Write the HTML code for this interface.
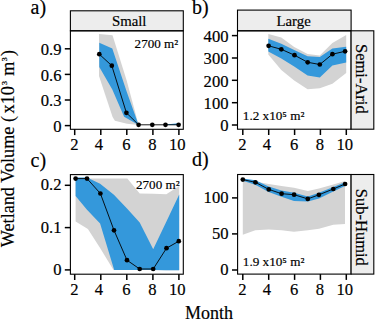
<!DOCTYPE html>
<html><head><meta charset="utf-8">
<style>
html,body{margin:0;padding:0;background:#fff;}
body{width:375px;height:319px;overflow:hidden;position:relative;}
svg{position:absolute;left:0;top:0;}
text{font-family:"Liberation Serif",serif;fill:#000;stroke:#000;stroke-width:0.18px;}
</style></head><body>
<svg width="375" height="319" viewBox="0 0 375 319">
<!-- ===== Panel a ===== -->
<g id="pa">
  <polygon fill="#d3d3d3" points="99,34 112.5,35.2 126.8,81 138.6,125 127,123.8 114.9,120.8 112.6,117 99,76"/>
  <polygon fill="#3498db" points="99.3,42.8 112.3,48.5 126.8,92 138.6,125 124.1,116.7 112.3,89.5 99.3,67"/>
  <polygon fill="#3498db" points="165.5,124.6 178.6,123.2 178.6,125 165.5,125"/>
  <polyline fill="none" stroke="#000" stroke-width="0.9" points="99.3,54.2 111.8,65.7 126.4,112.8 138.6,124.8 152.3,124.8 165.5,124.8 178.6,124.8"/>
  <g fill="#000">
    <circle cx="99.3" cy="54.2" r="2.35"/><circle cx="111.8" cy="65.7" r="2.35"/><circle cx="126.4" cy="112.8" r="2.35"/>
    <circle cx="138.6" cy="124.8" r="2.35"/><circle cx="152.3" cy="124.8" r="2.35"/><circle cx="165.5" cy="124.8" r="2.35"/><circle cx="178.6" cy="124.8" r="2.35"/>
  </g>
  <rect x="70.4" y="10.8" width="112.9" height="20" fill="#ededed" stroke="#000" stroke-width="1.1"/>
  <rect x="70.4" y="30.8" width="112.9" height="98.5" fill="none" stroke="#000" stroke-width="1.1"/>
  <text x="129.2" y="25.5" font-size="14.8" text-anchor="middle">Small</text>
  <text x="178.2" y="48" font-size="13.1" text-anchor="end">2700 m²</text>
</g>
<!-- ===== Panel b ===== -->
<g id="pb">
  <polygon fill="#d3d3d3" points="268.3,34 281.3,37.4 294.2,47 307.6,54 319.8,55.4 332.4,42.9 346.2,35 346.2,72.9 332.4,83.8 319.8,88.2 307.6,89.3 294.2,80.5 281.3,70 268.3,54.5"/>
  <polygon fill="#3498db" points="268.3,38.7 281.3,43.7 294.2,50 307.6,56.2 319.8,57 332.4,48.4 346.2,46.8 346.2,62.5 332.4,65.6 319.8,77.4 307.6,75.5 294.2,66.4 281.3,58.6 268.3,51.5"/>
  <polyline fill="none" stroke="#000" stroke-width="0.9" points="268.6,45.8 281.3,49.3 294.5,55.2 307.7,62.3 319.8,64.5 332.4,54.2 345.1,51.3"/>
  <g fill="#000">
    <circle cx="268.6" cy="45.8" r="2.35"/><circle cx="281.3" cy="49.3" r="2.35"/><circle cx="294.5" cy="55.2" r="2.35"/><circle cx="307.7" cy="62.3" r="2.35"/>
    <circle cx="319.8" cy="64.5" r="2.35"/><circle cx="332.4" cy="54.2" r="2.35"/><circle cx="345.1" cy="51.3" r="2.35"/>
  </g>
  <rect x="237.5" y="10.1" width="113.6" height="20.7" fill="#ededed" stroke="#000" stroke-width="1.1"/>
  <rect x="237.5" y="30.8" width="113.6" height="98.4" fill="none" stroke="#000" stroke-width="1.1"/>
  <rect x="351.1" y="30.8" width="22.7" height="98.4" fill="#ededed" stroke="#000" stroke-width="1.1"/>
  <text x="293.6" y="25.5" font-size="14.8" text-anchor="middle">Large</text>
  <text transform="translate(356,78.85) rotate(90)" font-size="16.5" text-anchor="middle">Semi-Arid</text>
  <text x="242.8" y="120.4" font-size="13.2">1.2 x10⁵ m²</text>
</g>
<!-- ===== Panel c ===== -->
<g id="pc">
  <polygon fill="#d3d3d3" points="75.6,178.6 87,178.6 100.1,178.6 113.9,178.6 127.3,178.6 139.7,193.6 153.2,193.8 166.3,194.2 179.2,186.1 179.2,270.2 166.3,270.2 153.2,269.9 139.7,269.9 127,269.9 113.5,269.9 100.1,248 87.9,229.1 75.6,221.6"/>
  <polygon fill="#3498db" points="75.6,177.6 87,177.6 100.1,183.8 113.9,194.8 127,208.6 139.7,222.4 153.2,249.3 166.3,221.7 179.2,194.4 179.2,270.2 166.3,270.2 153.2,269.9 139.7,269.9 127,269.9 114.2,269.9 100.1,223.5 87,209.7 75.6,195.9"/>
  <polyline fill="none" stroke="#000" stroke-width="0.9" points="75.6,178.6 87,178.6 100.4,193.5 114,230.3 127,260.2 139.7,269 153.2,269 166.5,248.2 178.8,241.2"/>
  <g fill="#000">
    <circle cx="75.6" cy="178.6" r="2.35"/><circle cx="87" cy="178.6" r="2.35"/><circle cx="100.4" cy="193.5" r="2.35"/><circle cx="114" cy="230.3" r="2.35"/>
    <circle cx="127" cy="260.2" r="2.35"/><circle cx="139.7" cy="269" r="2.35"/><circle cx="153.2" cy="269" r="2.35"/><circle cx="166.5" cy="248.2" r="2.35"/><circle cx="178.8" cy="241.2" r="2.35"/>
  </g>
  <rect x="70.4" y="174.6" width="112.9" height="99.6" fill="none" stroke="#000" stroke-width="1.1"/>
  <text x="179.6" y="188.9" font-size="13.1" text-anchor="end">2700 m²</text>
</g>
<!-- ===== Panel d ===== -->
<g id="pd">
  <polygon fill="#d3d3d3" points="242.8,178.4 255.3,181.5 268.7,184 281.5,186 294,187.7 307.9,191 319,188.5 333.3,184.4 345,181.1 345,224.1 333.3,224.7 319,228.7 307.9,230.2 294,231.7 281.5,230.2 268.7,229.6 255.3,230.2 242.8,234.8"/>
  <polygon fill="#3498db" points="242.8,178.4 255.3,180.3 268.7,186.4 281.5,190.4 294,192.7 307.9,196.5 319,192.7 333.3,186.9 345,182.2 345,186 333.3,191.5 319,198.4 307.9,201.4 294,200.9 281.5,196.8 268.7,192 255.3,184.8 242.8,180.8"/>
  <polyline fill="none" stroke="#000" stroke-width="0.9" points="242.8,179.6 255.4,182.3 268.8,189.4 281.6,193.7 294.1,194.7 307.8,198.9 318.9,194.8 333.3,189 345.1,184"/>
  <g fill="#000">
    <circle cx="242.8" cy="179.6" r="2.35"/><circle cx="255.4" cy="182.3" r="2.35"/><circle cx="268.8" cy="189.4" r="2.35"/><circle cx="281.6" cy="193.7" r="2.35"/>
    <circle cx="294.1" cy="194.7" r="2.35"/><circle cx="307.8" cy="198.9" r="2.35"/><circle cx="318.9" cy="194.8" r="2.35"/><circle cx="333.3" cy="189" r="2.35"/><circle cx="345.1" cy="184" r="2.35"/>
  </g>
  <rect x="237.6" y="174.5" width="113.5" height="99.6" fill="none" stroke="#000" stroke-width="1.1"/>
  <rect x="351.1" y="174.5" width="22.7" height="99.6" fill="#ededed" stroke="#000" stroke-width="1.1"/>
  <text transform="translate(356,227.3) rotate(90)" font-size="16.5" text-anchor="middle">Sub-Humid</text>
  <text x="242.8" y="266" font-size="13.2">1.9 x10⁵ m²</text>
</g>
<!-- ===== Axes ticks ===== -->
<g stroke="#000" stroke-width="1.5">
<line x1="64.8" y1="48.8" x2="70.4" y2="48.8"/><line x1="64.8" y1="74.4" x2="70.4" y2="74.4"/><line x1="64.8" y1="100" x2="70.4" y2="100.0"/><line x1="64.8" y1="125.6" x2="70.4" y2="125.6"/>
<line x1="231.9" y1="35.6" x2="237.5" y2="35.6"/><line x1="231.9" y1="58" x2="237.5" y2="58.0"/><line x1="231.9" y1="80.3" x2="237.5" y2="80.3"/><line x1="231.9" y1="102.7" x2="237.5" y2="102.7"/><line x1="231.9" y1="125" x2="237.5" y2="125.0"/>
<line x1="64.8" y1="185.3" x2="70.4" y2="185.3"/><line x1="64.8" y1="227.6" x2="70.4" y2="227.6"/><line x1="64.8" y1="269.9" x2="70.4" y2="269.9"/>
<line x1="232.0" y1="197.9" x2="237.6" y2="197.9"/><line x1="232.0" y1="233.9" x2="237.6" y2="233.9"/><line x1="232.0" y1="270" x2="237.6" y2="270.0"/>
<line x1="74.7" y1="129.3" x2="74.7" y2="135.1"/><line x1="100.8" y1="129.3" x2="100.8" y2="135.1"/><line x1="126.8" y1="129.3" x2="126.8" y2="135.1"/><line x1="152.9" y1="129.3" x2="152.9" y2="135.1"/><line x1="178.9" y1="129.3" x2="178.9" y2="135.1"/>
<line x1="242.8" y1="129.2" x2="242.8" y2="135.0"/><line x1="268.7" y1="129.2" x2="268.7" y2="135.0"/><line x1="294.6" y1="129.2" x2="294.6" y2="135.0"/><line x1="320.4" y1="129.2" x2="320.4" y2="135.0"/><line x1="346.3" y1="129.2" x2="346.3" y2="135.0"/>
<line x1="74.7" y1="274.2" x2="74.7" y2="280.0"/><line x1="100.8" y1="274.2" x2="100.8" y2="280.0"/><line x1="126.8" y1="274.2" x2="126.8" y2="280.0"/><line x1="152.9" y1="274.2" x2="152.9" y2="280.0"/><line x1="178.9" y1="274.2" x2="178.9" y2="280.0"/>
<line x1="242.8" y1="274.1" x2="242.8" y2="279.9"/><line x1="268.7" y1="274.1" x2="268.7" y2="279.9"/><line x1="294.6" y1="274.1" x2="294.6" y2="279.9"/><line x1="320.4" y1="274.1" x2="320.4" y2="279.9"/><line x1="346.3" y1="274.1" x2="346.3" y2="279.9"/>
</g>
<g font-size="16.6">
  <g text-anchor="end">
<text x="61.5" y="55.2">0.9</text><text x="61.5" y="80.8">0.6</text><text x="61.5" y="106.4">0.3</text><text x="61.5" y="132">0</text>
<text x="228.5" y="42">400</text><text x="228.5" y="64.4">300</text><text x="228.5" y="86.7">200</text><text x="228.5" y="109.1">100</text><text x="228.5" y="131.4">0</text>
<text x="61.5" y="190.4">0.2</text><text x="61.5" y="232.5">0.1</text><text x="61.5" y="274.9">0</text>
<text x="228.5" y="202.8">100</text><text x="228.5" y="238.8">50</text><text x="228.5" y="274.9">0</text>
  </g>
  <g text-anchor="middle">
<text x="74.4" y="149.8">2</text><text x="99.0" y="149.8">4</text><text x="126.4" y="149.8">6</text><text x="152.5" y="149.8">8</text><text x="177.3" y="149.8">10</text>
<text x="242.5" y="149.8">2</text><text x="267.0" y="149.8">4</text><text x="294.2" y="149.8">6</text><text x="320.0" y="149.8">8</text><text x="344.7" y="149.8">10</text>
<text x="74.4" y="294.7">2</text><text x="99.0" y="294.7">4</text><text x="126.4" y="294.7">6</text><text x="152.5" y="294.7">8</text><text x="177.3" y="294.7">10</text>
<text x="242.5" y="294.7">2</text><text x="267.0" y="294.7">4</text><text x="294.2" y="294.7">6</text><text x="320.0" y="294.7">8</text><text x="344.7" y="294.7">10</text>
  </g>
</g>
<g font-size="20">
  <text x="30.5" y="13.6">a)</text>
  <text x="192" y="14">b)</text>
  <text x="30.5" y="166.6">c)</text>
  <text x="192" y="166.4">d)</text>
</g>
<text x="208.9" y="318.5" font-size="18" text-anchor="middle">Month</text>
<text transform="translate(13.6,247.2) rotate(-90)" font-size="18.2">Wetland Volume (<tspan dx="-2"> x10</tspan><tspan font-size="13" dy="-4" dx="1.1">³</tspan><tspan dy="4" dx="0.8"> m</tspan><tspan font-size="13" dy="-4" dx="0.4">³</tspan><tspan dy="4" dx="1.3">)</tspan></text>
</svg>
</body></html>
